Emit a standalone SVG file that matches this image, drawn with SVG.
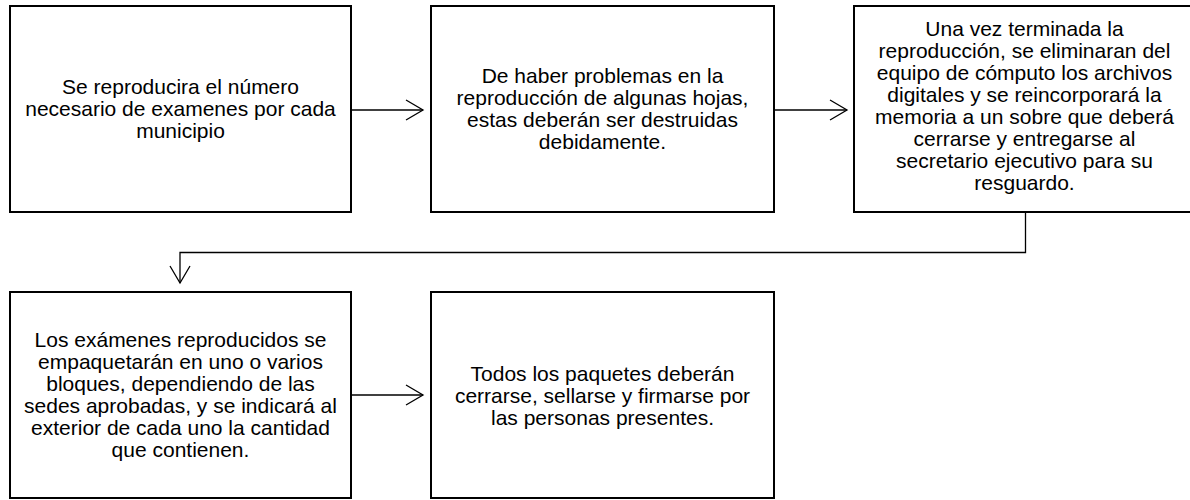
<svg xmlns="http://www.w3.org/2000/svg" width="1190" height="500" viewBox="0 0 1190 500">
<style>
.box{fill:#fff;stroke:#000;stroke-width:2}
.t{font-family:"Liberation Sans",Arial,sans-serif;font-size:21px;fill:#000;text-anchor:middle}
.c{fill:none;stroke:#000;stroke-width:1.3}
</style>
<defs>
<marker id="open" markerUnits="userSpaceOnUse" markerWidth="20" markerHeight="22" refX="17" refY="10" orient="auto" overflow="visible">
<path d="M0,0 L17,10 L0,20" fill="none" stroke="#000" stroke-width="1.3"/>
</marker>
</defs>
<rect width="1190" height="500" fill="#fff"/>
<g id="connectors">
<path class="c" d="M352,110 L423,110" marker-end="url(#open)"/>
<path class="c" d="M775,110 L847,110" marker-end="url(#open)"/>
<path class="c" d="M1025.5,213 V252.5 H180 V283" marker-end="url(#open)"/>
<path class="c" d="M352,395 L423,395" marker-end="url(#open)"/>
</g>
<g id="n1">
<rect class="box" x="10" y="6" width="341" height="206"/>
<text class="t"><tspan x="180.5" y="94">Se reproducira el número</tspan><tspan x="180.5" y="116">necesario de examenes por cada</tspan><tspan x="180.5" y="138">municipio</tspan></text>
</g>
<g id="n2">
<rect class="box" x="431" y="6" width="343" height="206"/>
<text class="t"><tspan x="602.5" y="83">De haber problemas en la</tspan><tspan x="602.5" y="105">reproducción de algunas hojas,</tspan><tspan x="602.5" y="127">estas deberán ser destruidas</tspan><tspan x="602.5" y="149">debidamente.</tspan></text>
</g>
<g id="n3">
<rect class="box" x="854" y="6" width="341" height="206"/>
<text class="t"><tspan x="1024.5" y="36">Una vez terminada la</tspan><tspan x="1024.5" y="58">reproducción, se eliminaran del</tspan><tspan x="1024.5" y="80">equipo de cómputo los archivos</tspan><tspan x="1024.5" y="102">digitales y se reincorporará la</tspan><tspan x="1024.5" y="124">memoria a un sobre que deberá</tspan><tspan x="1024.5" y="146">cerrarse y entregarse al</tspan><tspan x="1024.5" y="168">secretario ejecutivo para su</tspan><tspan x="1024.5" y="190">resguardo.</tspan></text>
</g>
<g id="n4">
<rect class="box" x="10" y="292" width="341" height="206"/>
<text class="t"><tspan x="180.5" y="347">Los exámenes reproducidos se</tspan><tspan x="180.5" y="369">empaquetarán en uno o varios</tspan><tspan x="180.5" y="391">bloques, dependiendo de las</tspan><tspan x="180.5" y="413">sedes aprobadas, y se indicará al</tspan><tspan x="180.5" y="435">exterior de cada uno la cantidad</tspan><tspan x="180.5" y="457">que contienen.</tspan></text>
</g>
<g id="n5">
<rect class="box" x="431" y="292" width="343" height="206"/>
<text class="t"><tspan x="602.5" y="381">Todos los paquetes deberán</tspan><tspan x="602.5" y="403">cerrarse, sellarse y firmarse por</tspan><tspan x="602.5" y="425">las personas presentes.</tspan></text>
</g>
</svg>
